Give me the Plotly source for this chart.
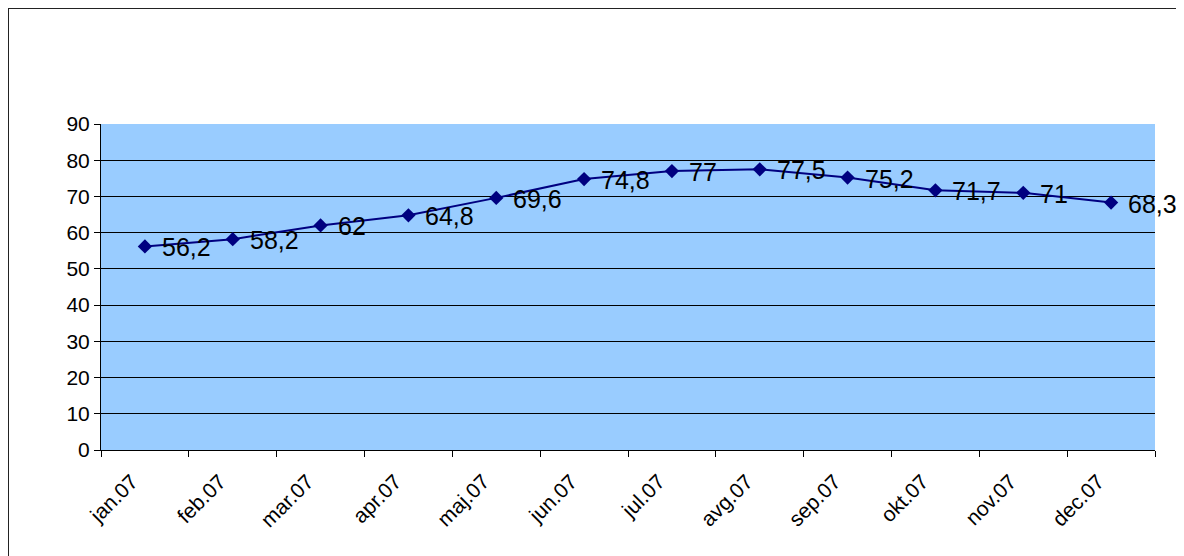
import plotly.graph_objects as go

categories = ["jan.07", "feb.07", "mar.07", "apr.07", "maj.07", "jun.07",
              "jul.07", "avg.07", "sep.07", "okt.07", "nov.07", "dec.07"]
values = [56.2, 58.2, 62, 64.8, 69.6, 74.8, 77, 77.5, 75.2, 71.7, 71, 68.3]
labels = [("%g" % v).replace(".", ",") for v in values]

# page has an 8px body margin; figure drawn at offset (8, 8)
OFF = 8
W, H = 1184 - OFF, 556 - OFF
L, R, T, B = 101 - OFF, 1155 - OFF, 124 - OFF, 450 - OFF

fig = go.Figure()
fig.add_trace(go.Scatter(
    x=categories, y=values, mode="lines+markers",
    line=dict(color="#000080", width=2),
    marker=dict(symbol="diamond", size=11, color="#000080"),
    cliponaxis=False, showlegend=False,
))

for c, v, t in zip(categories, values, labels):
    fig.add_annotation(x=c, y=v, text=t, showarrow=False,
                       xanchor="left", yanchor="middle", xshift=15, yshift=-1,
                       font=dict(family="Liberation Sans, Arial", size=25, color="#000000"))

# outer chart frame: only its left and top edges fall inside the picture
px_w = R - L
px_h = B - T
fx0 = (0 - L) / px_w
fx1 = (W + 20 - L) / px_w
fy1 = (B - 0) / px_h
fy0 = (B - H - 20) / px_h
fig.add_shape(type="path", xref="paper", yref="paper",
              path=f"M {fx0} {fy0} L {fx0} {fy1} L {fx1} {fy1}",
              line=dict(color="#222222", width=2), layer="below")

fig.update_layout(
    width=W, height=H,
    margin=dict(l=L, r=W - R, t=T, b=H - B, autoexpand=False),
    paper_bgcolor="white", plot_bgcolor="#99CCFF",
    font=dict(family="Liberation Sans, Arial", size=21, color="#000000"),
)
fig.update_xaxes(
    type="category", range=[-0.5, 11.5], tickangle=-45, automargin=False,
    tickson="boundaries", ticks="outside", ticklen=6, tickcolor="#000000",
    ticklabelshift=-13, ticklabelstandoff=10,
    showline=True, linecolor="#000000", linewidth=1, showgrid=False,
    tickfont=dict(size=21),
)
fig.update_yaxes(
    range=[0, 90], dtick=10, ticks="outside", ticklen=6, tickcolor="#000000",
    showline=True, linecolor="#000000", linewidth=1, automargin=False,
    showgrid=True, gridcolor="#000000", gridwidth=1, zeroline=False,
    tickfont=dict(size=21),
)

fig.write_html("out.html")
